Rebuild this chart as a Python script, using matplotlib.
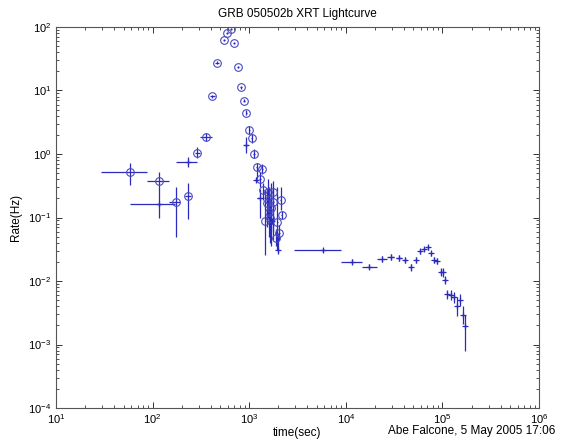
import numpy as np
import matplotlib
matplotlib.use('Agg')
import matplotlib.pyplot as plt
from matplotlib.ticker import LogLocator, NullFormatter

plt.rcParams['font.family'] = ['Liberation Sans', 'DejaVu Sans']
plt.rcParams['mathtext.default'] = 'regular'

# windowed timing points (open circles): time, rate, time range, rate range
wt_time = [58, 116, 175, 231, 290, 357, 415, 464, 545, 593, 649, 701, 760, 817,
           883, 933, 1003, 1062, 1122, 1196, 1357, 1294, 1400, 1577, 1751, 1615,
           1517, 1778, 2119, 1670, 1592, 2168, 1642, 1468, 1954, 2050, 1893]
wt_rate = [0.515, 0.38, 0.175, 0.221, 1.05, 1.83, 8.1, 27.4, 62.4, 79.6, 92, 55.4,
           23.2, 11.2, 6.9, 4.47, 2.39, 1.77, 1.0, 0.63, 0.58, 0.40, 0.271, 0.255,
           0.255, 0.189, 0.168, 0.177, 0.189, 0.140, 0.123, 0.109, 0.097, 0.088,
           0.086, 0.058, 0.047]
wt_time_lo = [29, 88, 148, 215, 272, 310, 390, 440, 530, 580, 635, 685, 745, 800,
              870, 920, 990, 1045, 1105, 1180, 1340, 1275, 1380, 1555, 1730, 1595,
              1495, 1755, 2095, 1650, 1570, 2145, 1620, 1450, 1930, 2030, 1870]
wt_time_hi = [88, 148, 192, 248, 310, 412, 442, 490, 560, 606, 663, 717, 775, 834,
              896, 946, 1016, 1080, 1140, 1212, 1375, 1310, 1420, 1600, 1770, 1635,
              1540, 1800, 2145, 1690, 1615, 2190, 1665, 1490, 1980, 2070, 1915]
wt_rate_lo = [0.325, 0.097, 0.050, 0.094, 0.86, 1.58, 7.6, 26.0, 60, 77, 89, 53,
              22.2, 10.6, 6.5, 4.1, 2.05, 1.5, 0.85, 0.41, 0.48, 0.30, 0.19, 0.10,
              0.045, 0.08, 0.07, 0.06, 0.13, 0.035, 0.05, 0.095, 0.04, 0.026,
              0.031, 0.045, 0.036]
wt_rate_hi = [0.713, 0.526, 0.305, 0.346, 1.28, 2.12, 8.6, 28.9, 65, 82, 95, 58,
              24.2, 11.8, 7.3, 4.9, 2.8, 2.1, 1.18, 0.71, 0.70, 0.52, 0.35, 0.41,
              0.37, 0.30, 0.28, 0.30, 0.30, 0.35, 0.24, 0.125, 0.20, 0.27, 0.30,
              0.075, 0.065]

# extra early points drawn without circles
ex_time = [116, 234, 927, 1175, 1294, 1710, 2000]
ex_rate = [0.161, 0.757, 1.39, 0.39, 0.20, 0.088, 0.031]
ex_time_lo = [58, 175, 890, 1160, 1213, 1620, 1980]
ex_time_hi = [171, 290, 965, 1190, 1422, 1800, 2020]
ex_rate_lo = [0.15, 0.62, 1.05, 0.36, 0.10, 0.08, 0.027]
ex_rate_hi = [0.17, 0.90, 1.85, 0.42, 0.28, 0.096, 0.057]

# photon counting points (plus markers)
pc_time = [5848, 11670, 17500, 23540, 29160, 35300, 41020, 46970, 53300, 58650,
           64530, 70460, 76210, 81830, 87310, 95980, 100700, 106400, 110700,
           121300, 131900, 140600, 151000, 161400, 171400]
pc_rate = [0.0308, 0.0201, 0.0168, 0.0222, 0.0241, 0.0233, 0.0214, 0.0164, 0.0214,
           0.0292, 0.0319, 0.0340, 0.0273, 0.0216, 0.0204, 0.0139, 0.0137, 0.0104,
           0.00618, 0.00606, 0.0055, 0.00404, 0.00502, 0.00292, 0.00199]
pc_time_lo = [2911, 8913, 14620, 20890, 26900, 33000, 38800, 45200, 51500, 57000,
              62800, 68700, 74500, 80300, 85800, 94400, 99200, 104900, 108500,
              118000, 129500, 138500, 149000, 159500, 169500]
pc_time_hi = [8913, 14620, 20890, 26900, 31600, 37700, 43300, 48800, 55100, 60300,
              66200, 72200, 77900, 83400, 88800, 97600, 102200, 107900, 113000,
              124500, 134300, 142700, 153000, 163300, 173300]
pc_rate_lo = [0.029, 0.0183, 0.0152, 0.0200, 0.0218, 0.0210, 0.0193, 0.0146, 0.0193,
              0.0265, 0.0292, 0.0312, 0.0248, 0.0195, 0.0183, 0.0118, 0.0116, 0.0089,
              0.0052, 0.0051, 0.0045, 0.0028, 0.0040, 0.0021, 0.00079]
pc_rate_hi = [0.033, 0.0221, 0.0186, 0.0246, 0.0266, 0.0258, 0.0237, 0.0184, 0.0237,
              0.0322, 0.0348, 0.0370, 0.0300, 0.0239, 0.0227, 0.0163, 0.0161, 0.0121,
              0.0073, 0.0072, 0.0067, 0.0055, 0.0063, 0.0040, 0.00292]

color = '#2a2abf'
circle_color = '#4a4ac4'


def draw(ax, t, r, tlo, thi, rlo, rhi, **kw):
    t = np.asarray(t, float)
    r = np.asarray(r, float)
    xerr = [t - np.asarray(tlo), np.asarray(thi) - t]
    yerr = [r - np.asarray(rlo), np.asarray(rhi) - r]
    ax.errorbar(t, r, xerr=xerr, yerr=yerr, color=color, ecolor=color,
                elinewidth=0.9, capsize=0, linestyle='none', **kw)


fig = plt.figure(figsize=(5.63, 4.41), dpi=100)
ax = fig.add_axes([0.0995, 0.0748, 0.858, 0.864])
ax.set_xscale('log')
ax.set_yscale('log')

draw(ax, wt_time, wt_rate, wt_time_lo, wt_time_hi, wt_rate_lo, wt_rate_hi,
     marker='o', markersize=5.5, mfc='none', mec=circle_color, mew=0.8)
draw(ax, ex_time, ex_rate, ex_time_lo, ex_time_hi, ex_rate_lo, ex_rate_hi,
     marker='+', markersize=4, mew=0.9)
draw(ax, pc_time, pc_rate, pc_time_lo, pc_time_hi, pc_rate_lo, pc_rate_hi,
     marker='+', markersize=4, mew=0.9)

ax.set_xlim(10, 1e6)
ax.set_ylim(1e-4, 1e2)
ax.xaxis.set_major_locator(LogLocator(base=10, numticks=10))
ax.yaxis.set_major_locator(LogLocator(base=10, numticks=10))
ax.xaxis.set_minor_locator(LogLocator(base=10, subs=np.arange(2, 10), numticks=20))
ax.yaxis.set_minor_locator(LogLocator(base=10, subs=np.arange(2, 10), numticks=20))
ax.xaxis.set_minor_formatter(NullFormatter())
ax.yaxis.set_minor_formatter(NullFormatter())
ax.tick_params(which='both', direction='in', top=True, right=True,
               labelsize=8, colors='#333333', labelcolor='black')
ax.tick_params(which='major', length=4, width=0.7)
ax.tick_params(which='minor', length=2.2, width=0.6)
ax.tick_params(axis='x', pad=3)
for s in ax.spines.values():
    s.set_color('#555555')
    s.set_linewidth(0.8)

ax.set_title('GRB 050502b XRT Lightcurve', fontsize=8.5, pad=7)
ax.set_xlabel('time(sec)', fontsize=8.5, labelpad=1)
ax.set_ylabel('Rate(Hz)', fontsize=8.5, labelpad=4)
fig.text(0.986, 0.01, 'Abe Falcone, 5 May 2005 17:06', ha='right', va='bottom',
         fontsize=8.5)

fig.savefig('out.png', dpi=100)
